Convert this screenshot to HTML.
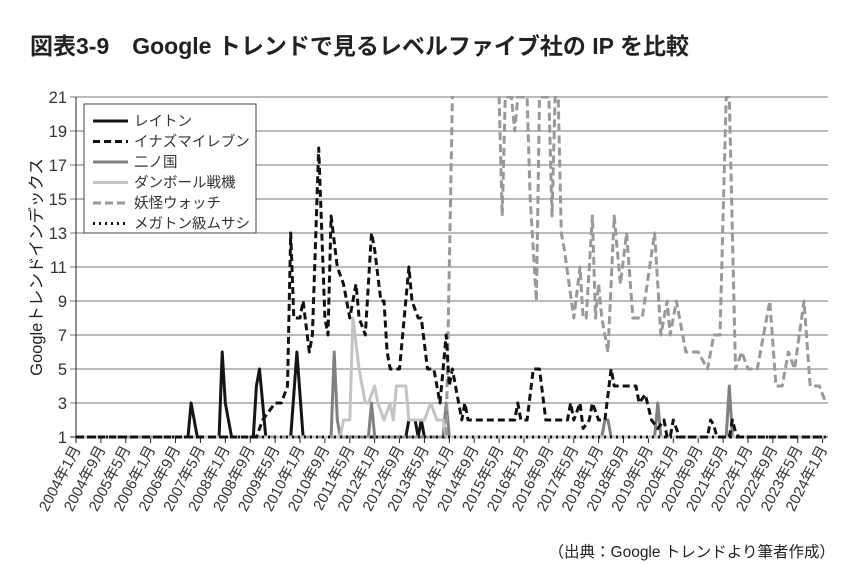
<!DOCTYPE html>
<html><head><meta charset="utf-8">
<style>
body{margin:0;background:#fff;width:860px;height:584px;overflow:hidden;font-family:"Liberation Sans","Noto Sans CJK JP",sans-serif;}
#title{position:absolute;left:30px;top:27px;font-size:23px;font-weight:bold;color:#222;white-space:nowrap;}
#src{position:absolute;right:25px;top:540px;font-size:15.5px;color:#222;white-space:nowrap;}
svg{position:absolute;left:0;top:0;}
</style></head>
<body>
<div id="title">図表3-9　Google トレンドで見るレベルファイブ社の IP を比較</div>
<div id="src">（出典：Google トレンドより筆者作成）</div>
<svg id="chart" width="860" height="584"></svg>
<script>
// month index 0 = 2004-01
const yTicks=[1,3,5,7,9,11,13,15,17,19,21];
const xTickLabels=["2004年1月","2004年9月","2005年5月","2006年1月","2006年9月","2007年5月","2008年1月","2008年9月","2009年5月","2010年1月","2010年9月","2011年5月","2012年1月","2012年9月","2013年5月","2014年1月","2014年9月","2015年5月","2016年1月","2016年9月","2017年5月","2018年1月","2018年9月","2019年5月","2020年1月","2020年9月","2021年5月","2022年1月","2022年9月","2023年5月","2024年1月"];
const seriesNames=["レイトン","イナズマイレブン","二ノ国","ダンボール戦機","妖怪ウォッチ","メガトン級ムサシ"];
const layton=[[0,1],[36,1],[37,3],[39,1],[46,1],[47,6],[48,3],[50,1],[57,1],[58,4],[59,5],[61,1],[69,1],[71,6],[73,1],[106,1],[107,2],[109,2],[110,1],[111,2],[112,1],[241,1]];
const inazuma=[[0,1],[58,1],[60,2],[62,2.5],[64,3],[66,3],[68,4],[69,13],[70,8],[72,8],[73,9],[75,6],[76,7],[78,18],[80,8],[81,7],[82,14],[84,11],[86,10],[88,8],[90,10],[91,8],[93,7],[95,13],[96,12],[98,9],[99,9],[100,6],[101,5],[104,5],[107,11],[108,9],[110,8],[111,8],[113,5],[115,5],[116,4],[117,3],[119,7],[120,4],[121,5],[122,4],[124,2],[125,3],[126,2],[141,2],[142,3],[143,2],[145,2],[147,5],[149,5],[151,2],[158,2],[159,3],[160,2],[162,3],[163,1.5],[165,2],[166,3],[168,2],[170,2],[172,5],[173,4],[180,4],[181,3],[183,3.5],[185,2],[187,1.5],[189,2],[190,1],[191,1],[192,2],[193,1.5],[194,1],[203,1],[204,2],[205,1.7],[206,1],[210,1],[211,2],[212,1.3],[213,1],[241,1]];
const ninokuni=[[0,1],[82,1],[83,6],[84,2],[85,1],[94,1],[95,3],[96,1],[118,1],[119,3],[120,1],[169,1],[170,2],[171,2],[172,1],[186,1],[187,3],[188,1],[209,1],[210,4],[211,1],[241,1]];
const danball=[[0,1],[85,1],[86,2],[88,2],[89,8],[91,5],[93,3],[94,3],[96,4],[97,3],[99,2],[101,3],[102,2],[103,4],[106,4],[107,2],[112,2],[114,3],[116,2],[118,2],[119,1],[241,1]];
const youkai=[[0,1],[119,1],[121,21],[122,60],[135,60],[136,21],[137,14],[138,21],[140,21],[141,19],[142,21],[145,21],[146,15],[148,9],[149,21],[152,21],[153,14],[154,21],[155,21],[156,13],[157,12],[160,8],[162,11],[163,8],[164,8],[166,14],[167,8],[168,10],[169,8],[171,6],[173,14],[175,10],[177,13],[179,8],[182,8],[186,13],[188,7],[190,9],[191,7],[193,9],[196,6],[199,6],[200,6],[203,5],[205,7],[207,7],[209,21],[210,21],[212,5],[214,6],[216,5],[219,5],[223,9],[225,4],[227,4],[229,6],[231,5],[234,9],[236,4],[239,4],[241,3]];
const megaton=[[0,1],[241,1]];

const NS="http://www.w3.org/2000/svg";
const svg=document.getElementById('chart');
const X0=76,PXM=3.111,Y0=437,PXU=17,XR=828;
const xs=m=>X0+m*PXM;
const ys=v=>Y0-(v-1)*PXU;
function mk(t,a,p){const e=document.createElementNS(NS,t);for(const k in a)e.setAttribute(k,a[k]);(p||svg).appendChild(e);return e;}

const defs=mk('defs',{});
const cp=mk('clipPath',{id:'clip'},defs);
mk('rect',{x:X0,y:96,width:XR-X0+2,height:345},cp);

yTicks.forEach(v=>{
  const g=mk('line',{x1:X0-6,x2:XR,y1:ys(v),y2:ys(v),stroke:v===1?'#222':'#777','stroke-width':1});
  
  
  const t=mk('text',{x:X0-9,y:ys(v)+6,'text-anchor':'end','font-size':16.5,fill:'#333'});
  t.textContent=v;
  
  
});
const ya=mk('line',{x1:X0,x2:X0,y1:97,y2:437,stroke:'#222','stroke-width':1});


xTickLabels.forEach((lab,i)=>{
  const x=xs(i*8);
  const tk=mk('line',{x1:x,x2:x,y1:437,y2:443,stroke:'#222','stroke-width':1});
  
  
  const t=mk('text',{x:x+5,y:449,'text-anchor':'end','font-size':15,fill:'#333',transform:`rotate(-62 ${x+5} 449)`});
  t.textContent=lab;
  
  
});
const yt=mk('text',{x:42,y:267,'text-anchor':'middle','font-size':16.5,fill:'#222',transform:'rotate(-90 42 267)'});
yt.textContent='Googleトレンドインデックス';



const styles=[
 {d:layton,c:'#151515',dash:null,n:'series-layton'},
 {d:ninokuni,c:'#808080',dash:null,n:'series-ninokuni'},
 {d:danball,c:'#c4c4c4',dash:null,n:'series-danball'},
 {d:youkai,c:'#999',dash:'8 4',n:'series-youkai'},
 {d:megaton,c:'#111',dash:'2 4',n:'series-megaton'},
 {d:inazuma,c:'#111',dash:'7 4',n:'series-inazuma'}
];
const lg=mk('g',{'clip-path':'url(#clip)'});
styles.forEach(s=>{
  const pts=s.d.map(p=>xs(p[0]).toFixed(1)+','+ys(p[1]).toFixed(1)).join(' ');
  const a={points:pts,fill:'none',stroke:s.c,'stroke-width':3,'stroke-linejoin':'round'};
  if(s.dash)a['stroke-dasharray']=s.dash;
  const pl=mk('polyline',a,lg);
  
  
});

const leg=mk('g',{});


mk('rect',{x:84,y:104,width:172,height:129,fill:'#fff',stroke:'#444','stroke-width':1},leg);
const legStyle=[{c:'#151515',dash:null},{c:'#111',dash:'7 4'},{c:'#808080',dash:null},{c:'#c4c4c4',dash:null},{c:'#999',dash:'8 4'},{c:'#111',dash:'2 4'}];
seriesNames.forEach((n,i)=>{
  const y=121+i*20.5;
  const a={x1:93,x2:128,y1:y,y2:y,stroke:legStyle[i].c,'stroke-width':3};
  if(legStyle[i].dash)a['stroke-dasharray']=legStyle[i].dash;
  const l=mk('line',a,leg);
  
  
  const t=mk('text',{x:134,y:y+5,'font-size':14.5,fill:'#333'},leg);
  t.textContent=n;
  
  
});
</script>
</body></html>
